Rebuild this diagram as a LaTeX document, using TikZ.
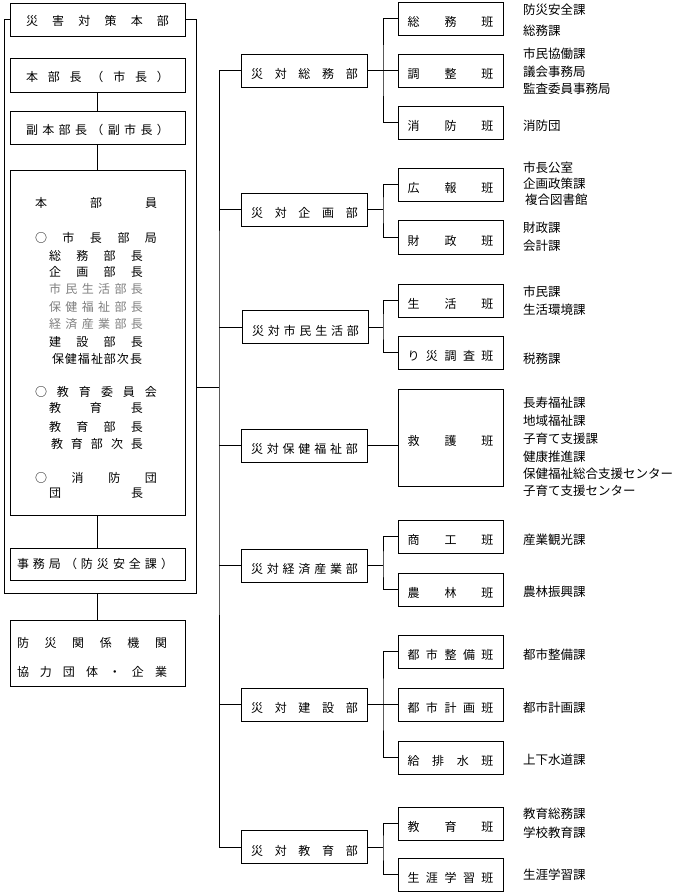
\documentclass[tikz,border=0pt]{standalone}
\usepackage{fontspec}
\setmainfont{Noto Sans CJK JP}
\makeatletter
\newcommand\SP[2]{\makebox[#1][s]{\sp@first#2\@nil}}
\def\sp@first#1{#1\sp@loop}
\def\sp@loop#1{\ifx#1\@nil\else\hfill#1\expandafter\sp@loop\fi}
\makeatother
\newcommand\TX[2][8pt]{\raisebox{-#1}[0pt][0pt]{#2}}
\begin{document}
\begin{tikzpicture}[x=1pt,y=-1pt,
  every node/.style={inner sep=0pt, outer sep=0pt},
  font=\fontsize{12}{14}\selectfont,
  box/.style={draw, line width=0.9pt, fill=white},
  ln/.style={line width=0.9pt},
  tx/.style={anchor=base west, yshift=-4.5pt},
  rtx/.style={tx, font=\fontsize{12.5}{14}\selectfont},
  gr/.style={text=black!50},
  lbox/.style={box, minimum width=175pt, minimum height=33pt},
  mbox/.style={box, minimum width=126pt, minimum height=33pt},
  gbox/.style={box, minimum width=105pt, minimum height=33pt}]
\useasboundingbox (0,0) rectangle (681,894);
% left frame
\node[draw, line width=0.9pt, minimum width=192pt, minimum height=574pt] (fr) at (100,306) {};
\node[lbox] (t0) at (97.5,19.5) {\TX[6pt]{\SP{143pt}{災害対策本部}}};
\node[lbox, minimum height=34pt] (t1) at (97.5,75) {\TX[6.5pt]{\SP{143pt}{本部長（市長）}}};
\node[lbox] (t2) at (97.5,127.5) {\TX[6.5pt]{\SP{143pt}{副本部長（副市長）}}};
\node[lbox, minimum height=345pt] (t3) at (97.5,342.5) {};
\node[tx] (r1) at (35,203) {\SP{122pt}{本部員}};
\node[tx] (r2) at (35,238) {\SP{122pt}{○市長部局}};
\node[tx] (r3) at (49,256) {\SP{94pt}{総務部長}};
\node[tx] (r4) at (49,272) {\SP{94pt}{企画部長}};
\node[tx,gr] (r5) at (49,289) {\SP{94pt}{市民生活部長}};
\node[tx,gr] (r6) at (49,307) {\SP{94pt}{保健福祉部長}};
\node[tx,gr] (r7) at (49,324) {\SP{94pt}{経済産業部長}};
\node[tx] (r8) at (49,342) {\SP{94pt}{建設部長}};
\node[tx] (r9) at (52,359) {\SP{90pt}{保健福祉部次長}};
\node[tx] (r10) at (35,392) {\SP{122pt}{○教育委員会}};
\node[tx] (r11) at (49,408) {\SP{94pt}{教育長}};
\node[tx] (r12) at (49,427) {\SP{94pt}{教育部長}};
\node[tx] (r13) at (51,444) {\SP{92pt}{教育部次長}};
\node[tx] (r14) at (35,478) {\SP{122pt}{○消防団}};
\node[tx] (r15) at (49,493) {\SP{94pt}{団長}};
\node[lbox, minimum height=32pt] (t4) at (97.5,564) {};
\node[tx] (t4l) at (17,564) {\SP{156pt}{事務局（防災安全課）}};
\node[lbox, minimum height=66pt] (t5) at (97.5,653) {};
\node[tx] (t5a) at (17,643) {\SP{150pt}{防災関係機関}};
\node[tx] (t5b) at (17,672) {\SP{150pt}{協力団体・企業}};
\draw[ln] (t1.south) -- (t2.north);
\draw[ln] (t2.south) -- (t3.north);
\draw[ln] (t3.south) -- (t4.north);
\draw[ln] (t5.north |- fr.south) -- (t5.north);
% middle column
\node[mbox] (m1) at (304.5,70.5) {\TX{\SP{107pt}{災対総務部}}};
\node[mbox] (m2) at (304.5,209.5) {\TX{\SP{107pt}{災対企画部}}};
\node[mbox] (m3) at (305.5,327) {\TX{\SP{107pt}{災対市民生活部}}};
\node[mbox] (m4) at (304.5,445.5) {\TX{\SP{107pt}{災対保健福祉部}}};
\node[mbox] (m5) at (304.5,565.5) {\TX{\SP{107pt}{災対経済産業部}}};
\node[mbox] (m6) at (304.5,704.5) {\TX{\SP{107pt}{災対建設部}}};
\node[mbox] (m7) at (304.5,847) {\TX{\SP{107pt}{災対教育部}}};
\coordinate (tr) at (219,387.5);
\draw[ln] (fr.east |- tr) -- (tr);
\draw[ln] (m1.west) -| (tr) |- (m7.west);
\foreach \m in {m2,m3,m4,m5,m6}{\draw[ln] (tr |- \m.west) -- (\m.west);}
% team boxes
\node[gbox] (g11) at (450.5,18.5) {\TX{\SP{86pt}{総務班}}};
\node[gbox] (g12) at (450.5,70.5) {\TX{\SP{86pt}{調整班}}};
\node[gbox] (g13) at (450.5,122.5) {\TX{\SP{86pt}{消防班}}};
\node[gbox] (g21) at (450.5,184.5) {\TX{\SP{86pt}{広報班}}};
\node[gbox, minimum height=34pt] (g22) at (450.5,237) {\TX{\SP{86pt}{財政班}}};
\node[gbox] (g31) at (450.5,300.5) {\TX{\SP{86pt}{生活班}}};
\node[gbox] (g32) at (450.5,352.5) {\TX{\SP{86pt}{り災調査班}}};
\node[gbox, minimum height=97pt] (g41) at (450.5,437.5) {\TX{\SP{86pt}{救護班}}};
\node[gbox] (g51) at (450.5,536.5) {\TX{\SP{86pt}{商工班}}};
\node[gbox] (g52) at (450.5,589.5) {\TX{\SP{86pt}{農林班}}};
\node[gbox] (g61) at (450.5,651.5) {\TX{\SP{86pt}{都市整備班}}};
\node[gbox] (g62) at (450.5,704.5) {\TX{\SP{86pt}{都市計画班}}};
\node[gbox] (g63) at (450.5,757.5) {\TX{\SP{86pt}{給排水班}}};
\node[gbox] (g71) at (450.5,823.5) {\TX{\SP{86pt}{教育班}}};
\node[gbox] (g72) at (450.5,874.5) {\TX{\SP{86pt}{生涯学習班}}};
\coordinate (b1) at (383,70.5);
\coordinate (b2) at (383,209.5);
\coordinate (b3) at (383,327);
\coordinate (b5) at (383,565.5);
\coordinate (b6) at (383,704.5);
\coordinate (b7) at (383,847);
\draw[ln] (m1.east) -- (g12.west);
\draw[ln] (g11.west) -| (b1) |- (g13.west);
\draw[ln] (m2.east) -- (b2);
\draw[ln] (g21.west) -| (b2) |- (g22.west);
\draw[ln] (m3.east) -- (b3);
\draw[ln] (g31.west) -| (b3) |- (g32.west);
\draw[ln] (m4.east) -- (m4.east -| g41.west);
\draw[ln] (m5.east) -- (b5);
\draw[ln] (g51.west) -| (b5) |- (g52.west);
\draw[ln] (m6.east) -- (g62.west);
\draw[ln] (g61.west) -| (b6) |- (g63.west);
\draw[ln] (m7.east) -- (b7);
\draw[ln] (g71.west) -| (b7) |- (g72.west);
% right texts
\node[rtx] (s1) at (523,10) {防災安全課};
\node[rtx] (s2) at (523,31) {総務課};
\node[rtx] (s3) at (523,54) {市民協働課};
\node[rtx] (s4) at (523,72) {議会事務局};
\node[rtx] (s5) at (523,89) {監査委員事務局};
\node[rtx] (s6) at (523,126) {消防団};
\node[rtx] (s7) at (523,168) {市長公室};
\node[rtx] (s8) at (523,184) {企画政策課};
\node[rtx] (s9) at (525,200) {複合図書館};
\node[rtx] (s10) at (523,228) {財政課};
\node[rtx] (s11) at (523,246) {会計課};
\node[rtx] (s12) at (523,292) {市民課};
\node[rtx] (s13) at (523,310) {生活環境課};
\node[rtx] (s14) at (523,359) {税務課};
\node[rtx] (s15) at (523,403) {長寿福祉課};
\node[rtx] (s16) at (523,421) {地域福祉課};
\node[rtx] (s17) at (523,439) {子育て支援課};
\node[rtx] (s18) at (523,457) {健康推進課};
\node[rtx] (s19) at (523,474) {保健福祉総合支援センター};
\node[rtx] (s20) at (523,491) {子育て支援センター};
\node[rtx] (s21) at (523,540) {産業観光課};
\node[rtx] (s22) at (523,592) {農林振興課};
\node[rtx] (s23) at (523,655) {都市整備課};
\node[rtx] (s24) at (523,708) {都市計画課};
\node[rtx] (s25) at (523,760) {上下水道課};
\node[rtx] (s26) at (523,814) {教育総務課};
\node[rtx] (s27) at (523,833) {学校教育課};
\node[rtx] (s28) at (523,875) {生涯学習課};
\end{tikzpicture}
\end{document}
